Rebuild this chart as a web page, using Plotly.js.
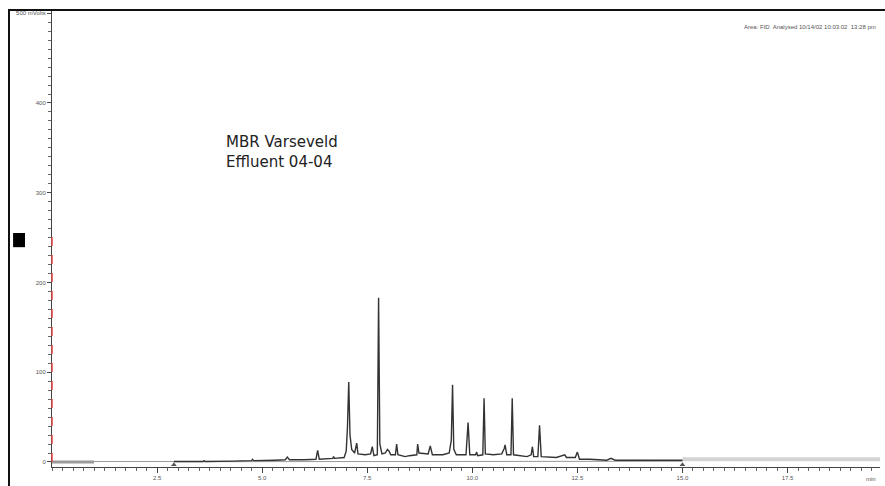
<!DOCTYPE html>
<html>
<head>
<meta charset="utf-8">
<script src="https://cdn.plot.ly/plotly-3.0.1.min.js"></script>
<style>
  html, body { margin: 0; padding: 0; background: #fff; }
  #wrap { position: relative; width: 885px; height: 486px; overflow: hidden; }
  #chart { position: absolute; left: 0; top: 0; width: 885px; height: 486px; }
  #frame { position: absolute; left: 8px; top: 9px; width: 900px; height: 500px;
           border-top: 2px solid #111; border-left: 2px solid #111; pointer-events: none; }
</style>
</head>
<body>
<div id="wrap">
  <div id="chart"></div>
  <div id="frame"></div>
</div>
<script>
// Retention time (min) and detector signal (mVolts)
const preTime = [0, 1.0];
const preSignal = [0, 0];
const preTime2 = [1.0, 2.9];
const preSignal2 = [0.5, 0.5];

const time = [2.9, 3.6, 3.62, 3.65, 4.3, 4.75, 4.77, 4.8, 5.3, 5.55, 5.6, 5.65, 6.0, 6.28, 6.32, 6.36,
  6.68, 6.7, 6.72, 6.95, 7.0, 7.03, 7.06, 7.09, 7.13, 7.2, 7.25, 7.28, 7.45, 7.58, 7.62, 7.66,
  7.74, 7.77, 7.8, 7.85, 7.93, 7.98, 8.02, 8.06, 8.17, 8.2, 8.23, 8.4, 8.5, 8.68, 8.7, 8.73,
  8.95, 9.0, 9.05, 9.3, 9.45, 9.5, 9.53, 9.56, 9.62, 9.85, 9.9, 9.94, 10.08, 10.1, 10.13,
  10.25, 10.28, 10.31, 10.5, 10.7, 10.76, 10.78, 10.82, 10.92, 10.95, 10.98, 11.3, 11.4, 11.43,
  11.46, 11.56, 11.6, 11.64, 11.85, 12.0, 12.2, 12.24, 12.45, 12.5, 12.55, 12.8, 13.2, 13.3,
  13.4, 13.8, 14.2, 15.0];
const signal = [0.5, 0.5, 1.5, 0.5, 1, 1.5, 3, 1.5, 2, 2.5, 5.5, 2.5, 2.5, 3, 13, 3,
  4, 6, 4, 5, 12, 39, 89, 30, 14, 10, 21, 9, 8, 9, 17, 7,
  8, 183, 20, 9, 10, 14, 12, 8, 8, 20, 8, 6, 7, 8, 20, 10,
  9, 18, 8, 8, 10, 24, 86, 14, 8, 8, 44, 8, 8, 11, 7,
  8, 71, 9, 8, 9, 15, 19, 8, 8, 71, 8, 6, 8, 17,
  6, 6, 41, 6, 5, 5, 8, 5, 5, 11, 3, 3, 2, 4,
  2, 2, 2.5, 2];

const postTime = [15.0, 19.7];
const postSignal = [3, 3];

const integTime = [2.9, 15.0];
const integSignal = [0.3, 0.8];

const markTime = [2.9, 15.0];
const markSignal = [-3, -3];

const xTickVals = [2.5, 5.0, 7.5, 10.0, 12.5, 15.0, 17.5];
const xTickText = ["2.5", "5.0", "7.5", "10.0", "12.5", "15.0", "17.5"];
const yTickVals = [0, 100, 200, 300, 400, 500];
const yTickText = ["0", "100", "200", "300", "400", "500 mVolts"];

const traces = [
  {x: preTime, y: preSignal, mode: 'lines', line: {color: '#9a9a9a', width: 3}, hoverinfo: 'skip'},
  {x: preTime2, y: preSignal2, mode: 'lines', line: {color: '#9a9a9a', width: 1}, hoverinfo: 'skip'},
  {x: postTime, y: postSignal, mode: 'lines', line: {color: '#d4d4d4', width: 4}, hoverinfo: 'skip'},
  {x: integTime, y: integSignal, mode: 'lines', line: {color: '#999', width: 1}, hoverinfo: 'skip'},
  {x: time, y: signal, mode: 'lines', line: {color: '#333', width: 1.4}},
  {x: markTime, y: markSignal, mode: 'markers', marker: {symbol: 'triangle-up', size: 5, color: '#555'}, hoverinfo: 'skip'}
];

const layout = {
  width: 885, height: 486,
  margin: {l: 52, r: 5, t: 10, b: 19},
  paper_bgcolor: 'rgba(0,0,0,0)',
  plot_bgcolor: 'rgba(0,0,0,0)',
  showlegend: false,
  font: {family: 'Liberation Sans, Arial, sans-serif', size: 6, color: '#555'},
  xaxis: {
    range: [0, 19.7], showgrid: false, zeroline: false,
    showline: true, linecolor: '#444', linewidth: 1,
    ticks: 'outside', ticklen: 5, tickcolor: '#444',
    tickvals: xTickVals, ticktext: xTickText,
    minor: {dtick: 0.25, ticks: 'outside', ticklen: 3, tickcolor: '#666'},
    tickfont: {size: 6, color: '#555'}
  },
  yaxis: {
    range: [-5.6, 503.6], showgrid: false, zeroline: false,
    showline: true, linecolor: '#444', linewidth: 1,
    ticks: 'outside', ticklen: 4, tickcolor: '#444',
    tickvals: yTickVals, ticktext: yTickText,
    minor: {dtick: 10, ticks: 'outside', ticklen: 3, tickcolor: '#666'},
    tickfont: {size: 6, color: '#555'}
  },
  shapes: [
    {type: 'line', xref: 'paper', yref: 'paper', x0: 0, x1: 0, y0: 0.011, y1: 0.508,
     line: {color: '#e04848', width: 1.5, dash: 'dash'}, layer: 'above'},
    {type: 'rect', xref: 'paper', yref: 'paper', x0: -0.047, x1: -0.0326, y0: 0.481, y1: 0.512,
     fillcolor: '#000', line: {width: 0}}
  ],
  annotations: [
    {xref: 'paper', yref: 'paper', x: 0.2077, y: 0.689, xanchor: 'left', yanchor: 'middle',
     align: 'left', showarrow: false,
     text: 'MBR Varseveld<br>Effluent 04-04',
     font: {family: 'DejaVu Sans, sans-serif', size: 15, color: '#222'}},
    {xref: 'paper', yref: 'paper', x: 0.998, y: 0.963, xanchor: 'right', yanchor: 'middle',
     showarrow: false, text: 'Area: FID  Analysed 10/14/02 10:03:02  13:28 pm',
     font: {size: 6, color: '#555'}},
    {xref: 'paper', yref: 'paper', x: 0.998, y: -0.038, xanchor: 'right', yanchor: 'bottom',
     showarrow: false, text: 'min', font: {size: 6, color: '#555'}}
  ]
};

Plotly.newPlot('chart', traces, layout, {displayModeBar: false, staticPlot: true});
</script>
</body>
</html>
